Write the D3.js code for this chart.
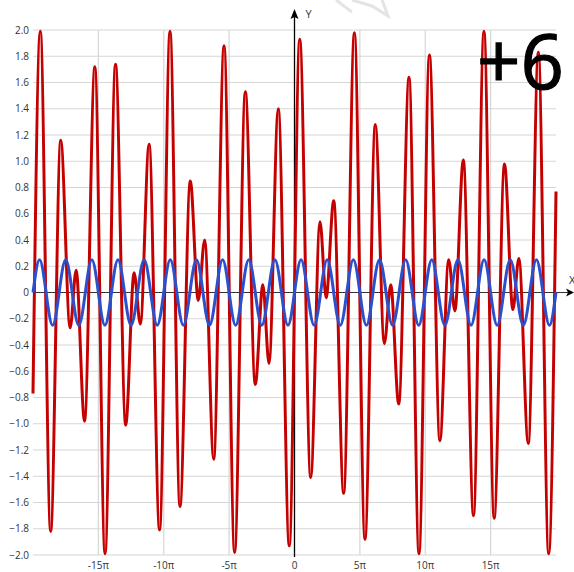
<!DOCTYPE html>
<html>
<head>
<meta charset="utf-8">
<script src="https://cdn.jsdelivr.net/npm/d3@7"></script>
<style>
  body { margin: 0; background: #fff; }
  svg { display: block; font-family: "Open Sans", "Noto Sans", sans-serif; }
</style>
</head>
<body>
<div id="chart"></div>
<script>
// x values are in units of π
const redX = [-20, -19.44, -18.65, -17.88, -17.16, -16.70, -16.06, -15.27, -14.49, -13.69,
  -12.91, -12.27, -11.79, -11.12, -10.32, -9.52, -8.76, -7.97, -7.36, -6.87,
  -6.18, -5.39, -4.58, -3.76, -3.0, -2.42, -1.95, -1.24, -0.40, 0.40,
  1.24, 1.95, 2.42, 3.0, 3.76, 4.58, 5.39, 6.18, 6.87, 7.36,
  7.97, 8.76, 9.52, 10.32, 11.12, 11.79, 12.27, 12.91, 13.69, 14.49,
  15.27, 16.06, 16.70, 17.16, 17.88, 18.65, 19.44, 20];
const redY = [-0.77, 1.99, -1.82, 1.16, -0.27, 0.17, -0.98, 1.72, -1.99, 1.74,
  -1.01, 0.15, -0.24, 1.13, -1.81, 1.99, -1.63, 0.85, -0.06, 0.40,
  -1.27, 1.88, -1.98, 1.53, -0.70, 0.06, -0.54, 1.40, -1.93, 1.93,
  -1.41, 0.54, -0.04, 0.70, -1.53, 1.98, -1.88, 1.28, -0.39, 0.06,
  -0.85, 1.64, -1.99, 1.81, -1.13, 0.25, -0.14, 1.01, -1.70, 1.99,
  -1.72, 0.98, -0.13, 0.26, -1.15, 1.83, -1.99, 0.77];

const blueX = [-20, -19.5, -18.5, -17.5, -16.5, -15.5, -14.5, -13.5, -12.5, -11.5, -10.5,
  -9.5, -8.5, -7.5, -6.5, -5.5, -4.5, -3.5, -2.5, -1.5, -0.5,
  0.5, 1.5, 2.5, 3.5, 4.5, 5.5, 6.5, 7.5, 8.5, 9.5,
  10.5, 11.5, 12.5, 13.5, 14.5, 15.5, 16.5, 17.5, 18.5, 19.5, 20];
const blueY = [0, 0.25, -0.25, 0.25, -0.25, 0.25, -0.25, 0.25, -0.25, 0.25, -0.25,
  0.25, -0.25, 0.25, -0.25, 0.25, -0.25, 0.25, -0.25, 0.25, -0.25,
  0.25, -0.25, 0.25, -0.25, 0.25, -0.25, 0.25, -0.25, 0.25, -0.25,
  0.25, -0.25, 0.25, -0.25, 0.25, -0.25, 0.25, -0.25, 0.25, -0.25, 0];

const xTicks = [-15, -10, -5, 0, 5, 10, 15];
const yTicks = [2.0, 1.8, 1.6, 1.4, 1.2, 1.0, 0.8, 0.6, 0.4, 0.2, 0,
  -0.2, -0.4, -0.6, -0.8, -1.0, -1.2, -1.4, -1.6, -1.8, -2.0];

const width = 574, height = 572;
const svg = d3.select("#chart").append("svg").attr("width", width).attr("height", height);

const x = d3.scaleLinear().domain([-20, 20]).range([33, 556]);
const y = d3.scaleLinear().domain([-2, 2]).range([555, 30]);

// grid
svg.append("g").selectAll("line").data(yTicks).join("line")
  .attr("x1", x(-20)).attr("x2", x(20))
  .attr("y1", d => y(d)).attr("y2", d => y(d))
  .attr("stroke", "#d6d6d6").attr("stroke-width", 1.2);
svg.append("g").selectAll("line").data(xTicks.filter(d => d !== 0)).join("line")
  .attr("x1", d => x(d)).attr("x2", d => x(d))
  .attr("y1", y(2)).attr("y2", y(-2))
  .attr("stroke", "#d6d6d6").attr("stroke-width", 1.2);

// tick labels
svg.append("g").selectAll("text").data(yTicks).join("text")
  .attr("x", 29).attr("y", d => y(d) + 3.5)
  .attr("text-anchor", "end").attr("font-size", 10).attr("fill", "#333")
  .text(d => d === 0 ? "0" : d3.format(".1f")(d));
svg.append("g").selectAll("text").data(xTicks).join("text")
  .attr("x", d => x(d)).attr("y", 569)
  .attr("text-anchor", "middle").attr("font-size", 10).attr("fill", "#333")
  .text(d => d === 0 ? "0" : d + "π");

// axes
svg.append("line").attr("x1", x(-20)).attr("x2", 570).attr("y1", y(0)).attr("y2", y(0))
  .attr("stroke", "#333").attr("stroke-width", 1);
svg.append("path").attr("d", `M574,${y(0)} L566,${y(0) - 4} L568,${y(0)} L566,${y(0) + 4} Z`).attr("fill", "#000");
svg.append("text").attr("x", 569).attr("y", y(0) - 9).attr("font-size", 11).attr("fill", "#333").text("X");

svg.append("line").attr("x1", x(0)).attr("x2", x(0)).attr("y1", y(-2) + 2).attr("y2", 14)
  .attr("stroke", "#000").attr("stroke-width", 1.3);
svg.append("path").attr("d", `M${x(0)},9 L${x(0) - 4},19 L${x(0)},17 L${x(0) + 4},19 Z`).attr("fill", "#000");
svg.append("text").attr("x", x(0) + 11).attr("y", 18).attr("font-size", 11).attr("fill", "#333").text("Y");

// faint watermark fragments at the top edge
svg.append("path").attr("d", "M336,0 L352,12 M352,0 L372,6 L388,16 L382,0")
  .attr("fill", "none").attr("stroke", "#e4e4e4").attr("stroke-width", 3);

// series
const line = d3.line().x(d => x(d[0])).y(d => y(d[1])).curve(d3.curveMonotoneX);
svg.append("path").datum(redX.map((d, i) => [d, redY[i]]))
  .attr("d", line).attr("fill", "none").attr("stroke", "#c40000").attr("stroke-width", 3);
svg.append("path").datum(blueX.map((d, i) => [d, blueY[i]]))
  .attr("d", line).attr("fill", "none").attr("stroke", "#2c50cc").attr("stroke-width", 3);

// big label
svg.append("text").attr("x", 477).attr("y", 89).attr("font-size", 76).attr("fill", "#000")
  .attr("stroke", "#000").attr("stroke-width", 1.2)
  .attr("font-family", "Open Sans, Noto Sans, sans-serif").text("+6");
</script>
</body>
</html>
